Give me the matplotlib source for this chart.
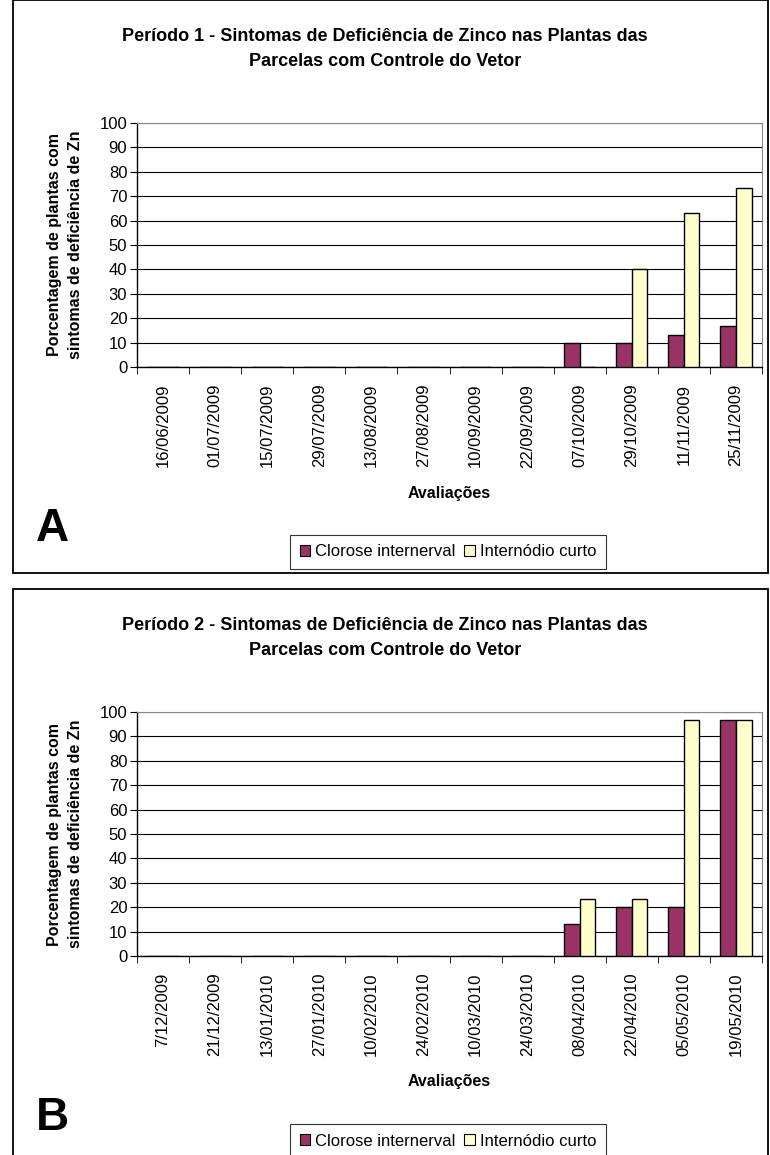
import matplotlib
matplotlib.use("Agg")
import matplotlib.pyplot as plt
import matplotlib.patches as mpatches
import numpy as np

plt.rcParams['font.family'] = ['Liberation Sans', 'DejaVu Sans']

# periodo 1
datas_1 = ['16/06/2009', '01/07/2009', '15/07/2009', '29/07/2009', '13/08/2009',
           '27/08/2009', '10/09/2009', '22/09/2009', '07/10/2009', '29/10/2009',
           '11/11/2009', '25/11/2009']
clorose_1 = [0, 0, 0, 0, 0, 0, 0, 0, 10, 10, 13.3, 16.7]
internodio_1 = [0, 0, 0, 0, 0, 0, 0, 0, 0, 40, 63.3, 73.3]

# periodo 2
datas_2 = ['7/12/2009', '21/12/2009', '13/01/2010', '27/01/2010', '10/02/2010',
           '24/02/2010', '10/03/2010', '24/03/2010', '08/04/2010', '22/04/2010',
           '05/05/2010', '19/05/2010']
clorose_2 = [0, 0, 0, 0, 0, 0, 0, 0, 13.3, 20, 20, 96.7]
internodio_2 = [0, 0, 0, 0, 0, 0, 0, 0, 23.3, 23.3, 96.7, 96.7]

titulos = ['Período 1 - Sintomas de Deficiência de Zinco nas Plantas das\nParcelas com Controle do Vetor',
           'Período 2 - Sintomas de Deficiência de Zinco nas Plantas das\nParcelas com Controle do Vetor']
letras = ['A', 'B']
series = ['Clorose internerval', 'Internódio curto']
cor_clorose = '#993366'
cor_internodio = '#FFFFCC'

W, H = 770, 1155
fig = plt.figure(figsize=(W / 100, H / 100), dpi=100)


def fy(py):
    return 1 - py / H


def painel(dy, datas, clor, intern, titulo, letra, altura_caixa):
    # moldura do grafico
    fig.patches.append(mpatches.Rectangle((13 / W, fy(dy + altura_caixa)), (768 - 13) / W,
                                          altura_caixa / H, transform=fig.transFigure,
                                          fill=False, ec='black', lw=1.3))
    fig.text(0.5, fy(dy + 49), titulo, ha='center', va='center', fontsize=13,
             fontweight='bold', linespacing=1.55)

    ax = fig.add_axes([137 / W, fy(dy + 367), (762 - 137) / W, 244 / H])
    x = np.arange(len(datas))
    w = 0.3
    ax.bar(x - w / 2, clor, w, color=cor_clorose, edgecolor='black', lw=1.0,
           label=series[0], zorder=3)
    ax.bar(x + w / 2, intern, w, color=cor_internodio, edgecolor='black', lw=1.0,
           label=series[1], zorder=3)
    ax.set_xlim(-0.5, len(datas) - 0.5)
    ax.set_ylim(0, 100)
    ax.set_yticks(np.arange(0, 101, 10))
    ax.yaxis.grid(True, color='black', lw=0.8)
    ax.set_axisbelow(True)
    ax.set_xticks(x)
    ax.set_xticklabels(datas, rotation=90, fontsize=12)
    ax.set_xticks(np.arange(-0.5, len(datas), 1), minor=True)
    ax.tick_params(axis='x', which='major', length=0, pad=12)
    ax.tick_params(axis='x', which='minor', length=5, direction='out', color='black')
    ax.tick_params(axis='y', labelsize=12, length=5, direction='out', pad=2)
    ax.spines['top'].set_color('#888888')
    ax.spines['right'].set_color('#888888')
    ax.spines['left'].set_linewidth(1.0)
    ax.spines['bottom'].set_linewidth(1.0)
    ax.set_xlabel('Avaliações', fontsize=11.5, fontweight='bold', labelpad=13)
    ax.set_ylabel('Porcentagem de plantas com\nsintomas de deficiência de Zn',
                  fontsize=11.5, fontweight='bold', labelpad=12, linespacing=1.45)

    fig.text(36 / W, fy(dy + 529), letra, fontsize=33, fontweight='bold',
             ha='left', va='center')

    handles = [mpatches.Patch(facecolor=cor_clorose, edgecolor='black', lw=0.8),
               mpatches.Patch(facecolor=cor_internodio, edgecolor='black', lw=0.8)]
    leg = fig.legend(handles, series, loc='center', ncol=2,
                     bbox_to_anchor=(448 / W, fy(dy + 552)), fontsize=12,
                     frameon=True, fancybox=False, edgecolor='black',
                     handlelength=0.65, handleheight=0.65, handletextpad=0.3,
                     columnspacing=0.5, borderpad=0.55)
    leg.get_frame().set_linewidth(0.8)
    return ax


painel(0, datas_1, clorose_1, internodio_1, titulos[0], letras[0], 573)
painel(589, datas_2, clorose_2, internodio_2, titulos[1], letras[1], 600)

fig.savefig('out.png', dpi=100)
